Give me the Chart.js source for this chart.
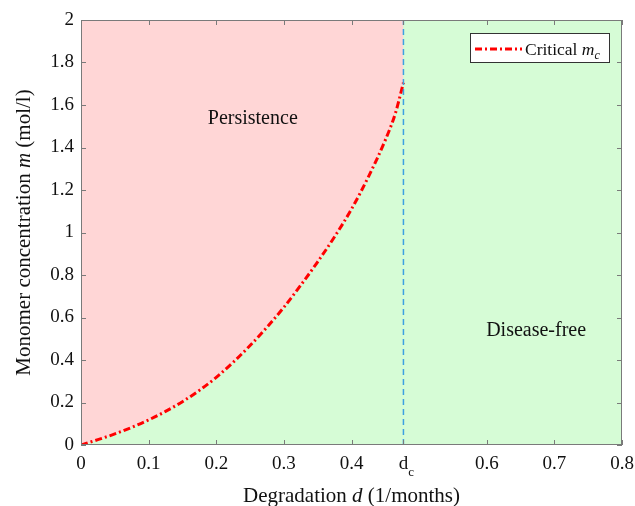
<!DOCTYPE html>
<html>
<head>
<meta charset="utf-8">
<script src="https://cdn.jsdelivr.net/npm/chart.js@4/dist/chart.umd.min.js"></script>
<style>
html,body{margin:0;padding:0;background:#fff;}
#wrap{width:635px;height:506px;}
</style>
</head>
<body>
<div id="wrap"><canvas id="c" width="635" height="506"></canvas></div>
<script>
// ---- data ----
const dValues = [0, 0.025, 0.05, 0.075, 0.1, 0.125, 0.15, 0.175, 0.2, 0.225, 0.25, 0.275, 0.3, 0.325, 0.35, 0.375, 0.4, 0.425, 0.45, 0.465, 0.4768];
const mValues = [0, 0.025, 0.052, 0.083, 0.118, 0.158, 0.204, 0.257, 0.318, 0.389, 0.468, 0.554, 0.648, 0.752, 0.862, 0.98, 1.11, 1.262, 1.435, 1.562, 1.705];
const dCritical = 0.4768;
const xTickValues = [0, 0.1, 0.2, 0.3, 0.4, 0.4768, 0.6, 0.7, 0.8];
const xTickLabels = ['0', '0.1', '0.2', '0.3', '0.4', 'd_c', '0.6', '0.7', '0.8'];
const yTickValues = [0, 0.2, 0.4, 0.6, 0.8, 1, 1.2, 1.4, 1.6, 1.8, 2];
const yTickLabels = ['0', '0.2', '0.4', '0.6', '0.8', '1', '1.2', '1.4', '1.6', '1.8', '2'];
const regionNames = ['Persistence', 'Disease-free'];
const regionD = [0.254, 0.673];
const regionM = [1.534, 0.536];

const PINK = 'rgb(255,214,214)';
const GREEN = 'rgb(214,252,214)';
const RED = '#ff0000';
const BLUE = 'rgb(60,160,225)';
const FONT = "'Liberation Serif', 'Times New Roman', serif";
const DASHDOT = [7, 3, 2, 3];

const curve = dValues.map((d, i) => ({x: d, y: mValues[i]}));
const vline = [{x: dCritical, y: 0}, {x: dCritical, y: 2}];

const decor = {
  id: 'decor',
  beforeDraw(chart) {
    const {ctx, chartArea: a} = chart;
    ctx.save();
    ctx.fillStyle = GREEN;
    ctx.fillRect(a.left, a.top, a.right - a.left, a.bottom - a.top);
    ctx.restore();
  },
  afterDatasetsDraw(chart) {
    const {ctx} = chart;
    const xs = chart.scales.x, ys = chart.scales.y;
    ctx.save();
    ctx.fillStyle = '#111';
    ctx.font = '20px ' + FONT;
    ctx.textAlign = 'center';
    ctx.textBaseline = 'middle';
    regionNames.forEach((t, i) => {
      ctx.fillText(t, xs.getPixelForValue(regionD[i]), ys.getPixelForValue(regionM[i]));
    });
    ctx.restore();
  },
  afterDraw(chart) {
    const {ctx, chartArea: a} = chart;
    const xs = chart.scales.x, ys = chart.scales.y;
    ctx.save();
    // box
    ctx.strokeStyle = '#7a7a7a';
    ctx.lineWidth = 1;
    ctx.strokeRect(Math.round(a.left) + 0.5, Math.round(a.top) + 0.5, Math.round(a.right - a.left) - 1, Math.round(a.bottom - a.top) - 1);
    // inner ticks
    const tl = 5;
    ctx.beginPath();
    xTickValues.forEach(v => {
      const px = Math.round(xs.getPixelForValue(v)) + 0.5;
      ctx.moveTo(px, a.bottom); ctx.lineTo(px, a.bottom - tl);
      ctx.moveTo(px, a.top); ctx.lineTo(px, a.top + tl);
    });
    yTickValues.forEach(v => {
      const py = Math.round(ys.getPixelForValue(v)) + 0.5;
      ctx.moveTo(a.left, py); ctx.lineTo(a.left + tl, py);
      ctx.moveTo(a.right, py); ctx.lineTo(a.right - tl, py);
    });
    ctx.stroke();

    // subscript c for d_c tick
    const ix = xTickLabels.indexOf('d_c');
    const pxc = xs.getPixelForValue(xTickValues[ix]);
    ctx.fillStyle = '#111';
    ctx.font = '19px ' + FONT;
    const wd = ctx.measureText('d').width;
    ctx.font = '13px ' + FONT;
    ctx.textAlign = 'left';
    ctx.textBaseline = 'alphabetic';
    ctx.fillText('c', pxc + wd / 2, 476);

    // x axis title
    const parts = [['Degradation ', ''], ['d', 'italic '], [' (1/months)', '']];
    let total = 0;
    parts.forEach(p => { ctx.font = p[1] + '21px ' + FONT; total += ctx.measureText(p[0]).width; });
    let x0 = (a.left + a.right) / 2 - total / 2;
    parts.forEach(p => { ctx.font = p[1] + '21px ' + FONT; ctx.fillText(p[0], x0, 502); x0 += ctx.measureText(p[0]).width; });

    // y axis title
    const yparts = [['Monomer concentration ', ''], ['m', 'italic '], [' (mol/l)', '']];
    ctx.save();
    ctx.translate(30, (a.top + a.bottom) / 2);
    ctx.rotate(-Math.PI / 2);
    total = 0;
    yparts.forEach(p => { ctx.font = p[1] + '21px ' + FONT; total += ctx.measureText(p[0]).width; });
    x0 = -total / 2;
    yparts.forEach(p => { ctx.font = p[1] + '21px ' + FONT; ctx.fillText(p[0], x0, 0); x0 += ctx.measureText(p[0]).width; });
    ctx.restore();

    // legend
    const lx = 470, ly = 33, lw = 139, lh = 29;
    ctx.fillStyle = '#fff';
    ctx.fillRect(lx, ly, lw, lh);
    ctx.strokeStyle = '#333';
    ctx.lineWidth = 1;
    ctx.strokeRect(lx + 0.5, ly + 0.5, lw, lh);
    ctx.strokeStyle = RED;
    ctx.lineWidth = 3;
    ctx.setLineDash(DASHDOT);
    ctx.beginPath();
    ctx.moveTo(475, 49); ctx.lineTo(522, 49);
    ctx.stroke();
    ctx.setLineDash([]);
    ctx.fillStyle = '#111';
    ctx.font = '17.5px ' + FONT;
    ctx.fillText('Critical ', 525, 55);
    let lx2 = 525 + ctx.measureText('Critical ').width;
    ctx.font = 'italic 17.5px ' + FONT;
    ctx.fillText('m', lx2, 55);
    lx2 += ctx.measureText('m').width;
    ctx.font = 'italic 12px ' + FONT;
    ctx.fillText('c', lx2, 59);
    ctx.restore();
  }
};

new Chart(document.getElementById('c'), {
  type: 'scatter',
  data: {
    datasets: [
      {
        label: 'Critical m_c',
        data: curve,
        showLine: true,
        borderColor: RED,
        borderWidth: 3,
        borderDash: DASHDOT,
        pointRadius: 0,
        cubicInterpolationMode: 'monotone',
        fill: 'end',
        backgroundColor: PINK,
        order: 1
      },
      {
        label: 'dc',
        data: vline,
        showLine: true,
        borderColor: BLUE,
        borderWidth: 1.5,
        borderDash: [6, 4],
        pointRadius: 0,
        fill: false,
        order: 0
      }
    ]
  },
  options: {
    responsive: false,
    animation: false,
    layout: {padding: {top: 20, right: 13, left: 0, bottom: 0}},
    plugins: {legend: {display: false}, tooltip: {enabled: false}},
    scales: {
      x: {
        type: 'linear', min: 0, max: 0.8,
        border: {display: false},
        grid: {display: false, drawTicks: false},
        afterBuildTicks: s => { s.ticks = xTickValues.map(v => ({value: v})); },
        afterFit: s => { s.height = 61; s.paddingLeft = 0; s.paddingRight = 0; },
        ticks: {
          padding: 8,
          color: '#111',
          font: {family: FONT, size: 19},
          maxRotation: 0,
          autoSkip: false,
          callback: (v, i) => (xTickLabels[i] === 'd_c' ? 'd' : xTickLabels[i])
        }
      },
      y: {
        type: 'linear', min: 0, max: 2,
        border: {display: false},
        grid: {display: false, drawTicks: false},
        afterBuildTicks: s => { s.ticks = yTickValues.map(v => ({value: v})); },
        afterFit: s => { s.width = 81; s.paddingTop = 0; s.paddingBottom = 0; },
        ticks: {
          padding: 7,
          color: '#111',
          font: {family: FONT, size: 19},
          autoSkip: false,
          callback: (v, i) => yTickLabels[i]
        }
      }
    }
  },
  plugins: [decor]
});
</script>
</body>
</html>
